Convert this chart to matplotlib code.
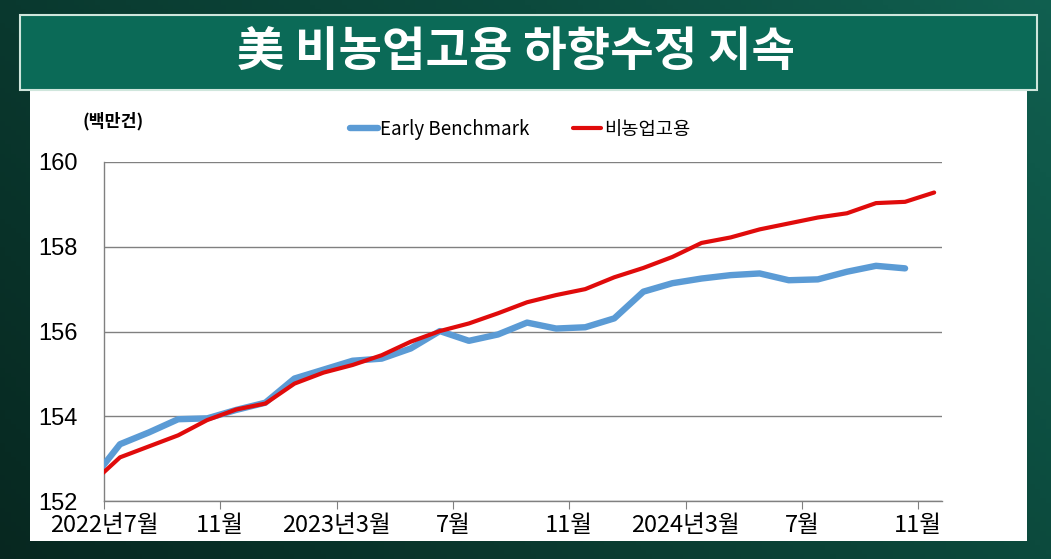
import matplotlib

matplotlib.use("Agg")
import matplotlib.pyplot as plt
import numpy as np
import pandas as pd
from matplotlib.colors import LinearSegmentedColormap
from matplotlib.patches import Rectangle

plt.rcParams["font.family"] = ["Noto Sans CJK KR", "DejaVu Sans"]

# monthly, 2022-06 .. 2024-11 (first month sits just left of the axis and is clipped)
months = pd.period_range("2022-06", "2024-11", freq="M")
nonfarm = [152.40, 153.03, 153.29, 153.55, 153.91, 154.16, 154.30, 154.77, 155.03, 155.21,
           155.44, 155.76, 156.01, 156.19, 156.43, 156.69, 156.86, 157.00, 157.28, 157.50,
           157.76, 158.09, 158.22, 158.41, 158.55, 158.69, 158.79, 159.03, 159.06, 159.28]
early_benchmark = [152.47, 153.34, 153.62, 153.93, 153.95, 154.15, 154.32, 154.89, 155.10, 155.31,
                   155.36, 155.60, 156.01, 155.78, 155.93, 156.21, 156.07, 156.10, 156.31, 156.94,
                   157.14, 157.25, 157.33, 157.37, 157.21, 157.23, 157.41, 157.55, 157.49]
tick_months = ["2022-07", "2022-11", "2023-03", "2023-07", "2023-11", "2024-03", "2024-07", "2024-11"]
tick_labels = ["2022년7월", "11월", "2023년3월", "7월", "11월", "2024년3월", "7월", "11월"]
y_ticks = [152, 154, 156, 158, 160]

W, H = 1051, 559
fig = plt.figure(figsize=(W / 100, H / 100), dpi=100)

# dark green backdrop
bg = fig.add_axes([0, 0, 1, 1], zorder=-10)
bg.set_axis_off()
gx, gy = np.meshgrid(np.linspace(0, 1, 200), np.linspace(0, 1, 120))
shade = 0.3 + 0.4 * gx - 0.2 * gy
cmap = LinearSegmentedColormap.from_list("bg", ["#061f19", "#0c4a3d", "#17806c"])
bg.imshow(shade, cmap=cmap, aspect="auto", extent=[0, 1, 0, 1], vmin=0, vmax=1)
bg.set_xlim(0, 1)
bg.set_ylim(0, 1)

# white chart panel
fig.patches.append(Rectangle((30 / W, 1 - 541 / H), (1027 - 30) / W, (541 - 90) / H,
                             transform=fig.transFigure, facecolor="white", edgecolor="none", zorder=-5))
# title banner
fig.patches.append(Rectangle((20 / W, 1 - 90 / H), (1037 - 20) / W, (90 - 15) / H,
                             transform=fig.transFigure, facecolor="#0b6a57", edgecolor="#cfe6dc",
                             linewidth=1.5, zorder=-4))
fig.text(516 / W, 1 - 52 / H, "美 비농업고용 하향수정 지속", color="white", fontsize=34,
         fontweight="bold", ha="center", va="center")

ax = fig.add_axes([104 / W, 1 - 501 / H, (942 - 104) / W, (501 - 162) / H])
ax.set_facecolor("none")
x = np.arange(len(months))
month_str = [str(m) for m in months]

ax.plot(x[:len(early_benchmark)], early_benchmark, color="#5b9bd5", linewidth=4.6,
        solid_capstyle="round", label="Early Benchmark", zorder=3)
ax.plot(x, nonfarm, color="#e00b0b", linewidth=3.0, solid_capstyle="round",
        label="비농업고용", zorder=4)

ax.set_xlim(0.5, 29.27)
ax.set_ylim(152, 160)
ax.set_yticks(y_ticks)
ax.set_yticklabels([str(v) for v in y_ticks], family="Liberation Sans", fontsize=17)
ax.tick_params(axis="y", length=0, pad=19)

ax.set_xticks([month_str.index(m) - 0.55 for m in tick_months])
ax.set_xticklabels(tick_labels, fontsize=17, fontweight="medium")
ax.tick_params(axis="x", direction="out", length=6, color="#808080", pad=3)

ax.grid(axis="y", color="#808080", linewidth=1.0)
ax.set_axisbelow(True)
for side in ["top", "right"]:
    ax.spines[side].set_visible(False)
for side in ["left", "bottom"]:
    ax.spines[side].set_color("#808080")
    ax.spines[side].set_linewidth(1.0)

fig.text(83 / W, 1 - 121 / H, "(백만건)", fontsize=12.5, fontweight="bold", ha="left", va="center")

leg = ax.legend(loc="center left", bbox_to_anchor=(0.293, 1.097), ncol=2, frameon=False,
                fontsize=13.5, handlelength=1.5, handletextpad=0.15, columnspacing=2.3,
                borderaxespad=0, borderpad=0)
for line in leg.get_lines():
    line.set_solid_capstyle("round")

fig.savefig("out.png", dpi=100)
